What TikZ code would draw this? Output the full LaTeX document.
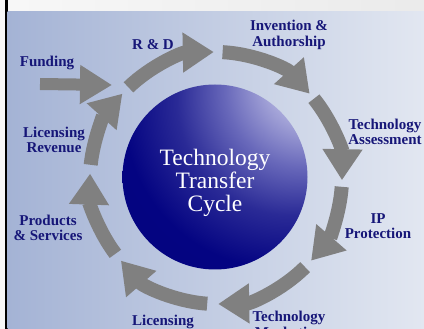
\documentclass[tikz,border=0pt]{standalone}
\usepackage{fontspec}
\setmainfont{Liberation Serif}
\usetikzlibrary{arrows.meta}

\definecolor{labelblue}{RGB}{22,22,120}
\definecolor{arrowgray}{RGB}{128,128,128}
\definecolor{bgleft}{RGB}{164,179,213}
\definecolor{bgright}{RGB}{226,231,241}

% highlight sits up and to the right
\pgfdeclareradialshading{sphereshade}{\pgfpoint{30bp}{30bp}}{%
  color(0bp)=(white);
  color(3bp)=(white!94!blue);
  color(11bp)=(rgb,255:red,176;green,176;blue,222);
  color(21bp)=(rgb,255:red,104;green,104;blue,186);
  color(31bp)=(rgb,255:red,42;green,42;blue,150);
  color(42bp)=(rgb,255:red,4;green,4;blue,130);
  color(100bp)=(rgb,255:red,0;green,0;blue,116)}

\begin{document}
\begin{tikzpicture}[x=1pt,y=1pt,
  label/.style={text=labelblue,font=\bfseries\fontsize{15}{15.5}\selectfont,align=center,inner sep=0},
  ringarrow/.style={draw=arrowgray,line width=14pt,-{Triangle[length=31pt,width=38pt]}},
  feedarrow/.style={draw=arrowgray,line width=12pt,-{Triangle[length=32pt,width=37pt]}}]

\useasboundingbox (0,0) rectangle (424,-329);

% frame
\fill[left color=white!97!black,right color=white!92!black] (0,0) rectangle (424,-12);
\fill[white!97!black] (0,-12) rectangle (4.5,-329);
\fill[black] (4.5,0) rectangle (7.5,-329);
\fill[left color=bgleft,right color=bgright] (7.5,-12) rectangle (424,-329);

\coordinate (hub) at (216,-178);

\node[circle,minimum size=185pt,inner sep=0,shading=sphereshade] (sphere) at (215,-177) {};
\node[text=white,font=\fontsize{23.5}{23}\selectfont,align=center] (title) at (215,-183) {Technology\\Transfer\\Cycle};

\foreach \a/\b in {134/91, 87/42, 39/-1, -4/-41, -45/-89, -94/-139, -143/-182, 174/138}
  \draw[ringarrow] (hub) ++(\a:126) arc[start angle=\a,end angle=\b,radius=126];

\coordinate (fundtail) at (40,-84);
\coordinate (fundtip) at (112,-85);
\draw[feedarrow] (fundtail) -- (fundtip);

\node[label] (funding) at (47,-63) {Funding};
\node[label] (rnd) at (153,-45) {R \& D};
\node[label] (invention) at (289,-35) {Invention \&\\Authorship};
\node[label] (assessment) at (385,-132) {Technology\\Assessment};
\node[label] (protection) at (378,-226) {IP\\Protection};
\node[label] (marketing) at (289,-326) {Technology\\Marketing};
\node[label] (licensing) at (163,-322) {Licensing};
\node[label] (products) at (48,-228) {Products\\\& Services};
\node[label] (revenue) at (54,-140) {Licensing\\Revenue};
\end{tikzpicture}
\end{document}
